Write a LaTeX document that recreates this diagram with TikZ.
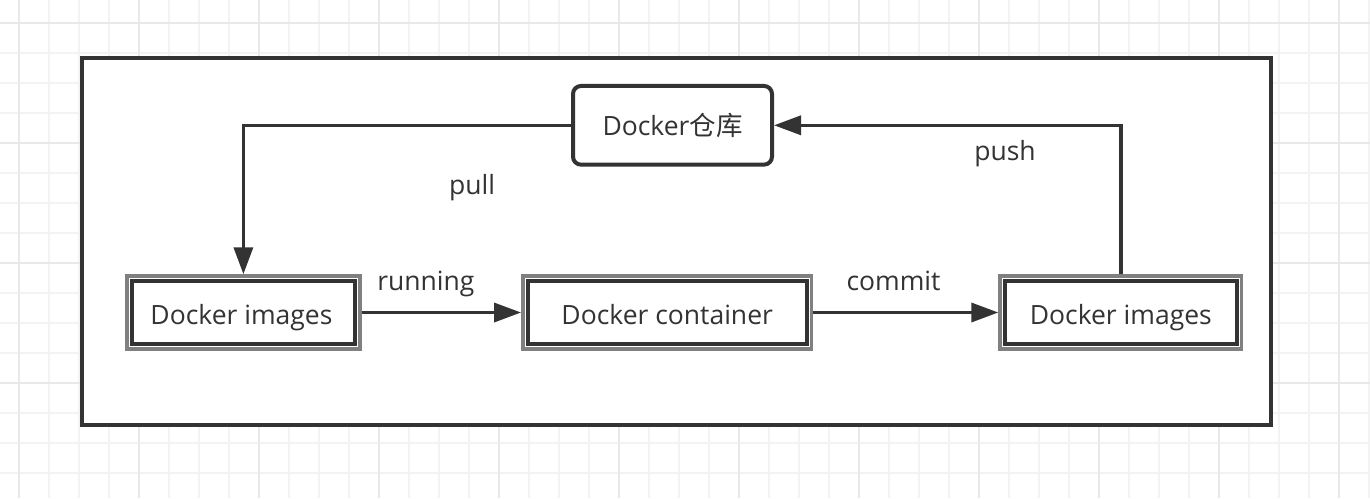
\documentclass[tikz,border=0pt]{standalone}
\usepackage{fontspec}
\setmainfont{Open Sans}
\newfontfamily\cjk{Noto Sans CJK SC}
\usetikzlibrary{arrows.meta}
\definecolor{ink}{HTML}{333333}
\definecolor{edgegray}{HTML}{808080}
\definecolor{gridlight}{HTML}{F3F3F3}
\definecolor{griddark}{HTML}{E8E8E8}
\tikzset{
  gridline/.style={gridlight, line width=2pt},
  gridmajor/.style={griddark, line width=2pt},
  frame/.style={draw=ink, fill=white, line width=4pt, inner sep=0pt},
  repobox/.style={draw=ink, fill=white, line width=4pt, rounded corners=8pt,
    inner sep=0pt, text=ink, font=\fontsize{26.5}{30}\selectfont},
  imgbox/.style={draw=edgegray, fill=white, line width=3.5pt, inner sep=0pt,
    minimum height=73pt, text=ink, font=\fontsize{26.5}{30}\selectfont},
  innerline/.style={draw=ink, line width=4pt},
  conn/.style={draw=ink, line width=3.5pt, -{Triangle[length=27pt, width=19pt]}},
  lbl/.style={text=ink, font=\fontsize{26.5}{30}\selectfont, anchor=base, inner sep=0pt},
}
\begin{document}
\begin{tikzpicture}[x=1pt, y=-1pt]
\useasboundingbox (0,0) rectangle (1370,498);
\fill[white] (0,0) rectangle (1370,498);
% grid
\foreach \k in {0,...,45} {
  \draw[gridline] ({18.5+30*\k},0) -- ({18.5+30*\k},498);
}
\foreach \k in {0,...,16} {
  \draw[gridline] (0,{22.7+30*\k}) -- (1370,{22.7+30*\k});
}
\foreach \k in {0,...,11} {
  \draw[gridmajor] ({18.5+120*\k},0) -- ({18.5+120*\k},498);
}
\foreach \k in {0,...,4} {
  \draw[gridmajor] (0,{22.7+120*\k}) -- (1370,{22.7+120*\k});
}
% outer frame
\node[frame, minimum width=1189.6pt, minimum height=367.3pt] (frame) at (676.5,241.7) {};
% nodes
\node[repobox, minimum width=199pt, minimum height=78.7pt] (repo) at (672.5,125.3) {Docker{\cjk 仓库}};
\node[imgbox, minimum width=233.2pt] (img1) at (243.4,312.5) {};
\node[imgbox, minimum width=288.8pt] (cont) at (667.2,312.5) {};
\node[imgbox, minimum width=241.5pt] (img2) at (1120.8,312.5) {};
\foreach \n in {img1,cont,img2} {
  \draw[innerline] ([xshift=6.5pt,yshift=-6.5pt]\n.north west) rectangle ([xshift=-6.5pt,yshift=6.5pt]\n.south east);
}
\node[lbl] (t1) at (241.5,324) {Docker images};
\node[lbl] (t2) at (667.2,324) {Docker container};
\node[lbl] (t3) at (1120.8,324) {Docker images};
% connectors
\draw[conn] (repo.west) -| (img1.north);
\draw[conn] (img2.north) |- (repo.east);
\draw[conn] (img1.east) -- (cont.west);
\draw[conn] (cont.east) -- (img2.west);
% labels
\node[lbl] (lpull) at (472,194.3) {pull};
\node[lbl] (lpush) at (1005,160) {push};
\node[lbl] (lrun) at (425.8,290) {running};
\node[lbl] (lcom) at (893.5,290) {commit};
\end{tikzpicture}
\end{document}
